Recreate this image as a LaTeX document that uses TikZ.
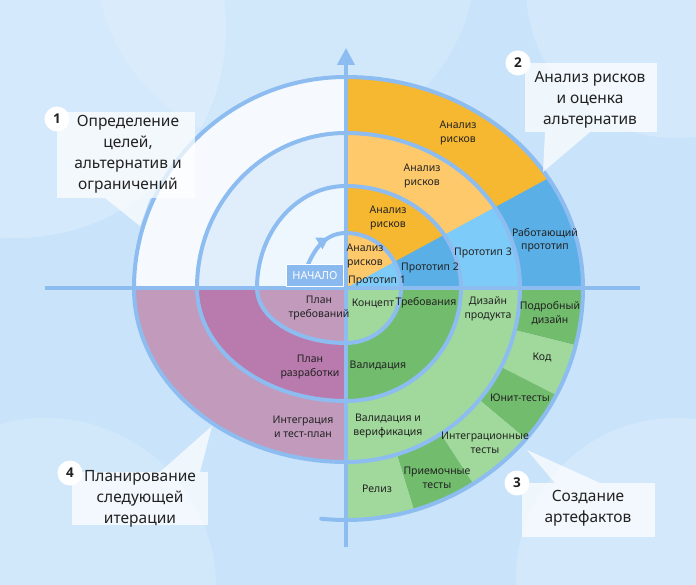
\documentclass[tikz,border=0pt]{standalone}
\usepackage{fontspec}
\setmainfont{Noto Sans}
\newfontfamily\numfont{Open Sans}[UprightFont=* Bold]
\usetikzlibrary{arrows.meta,decorations.markings}
\definecolor{bgc}{HTML}{C9E4FA}
\definecolor{linec}{HTML}{8CBCF0}
\definecolor{tlout}{HTML}{F6FAFE}
\definecolor{tlmid}{HTML}{E0EEFC}
\definecolor{tlin}{HTML}{EEF6FE}
\definecolor{ordark}{HTML}{F6B731}
\definecolor{orlight}{HTML}{FDC96A}
\definecolor{bldark}{HTML}{5AAFE6}
\definecolor{bllight}{HTML}{7DCBF8}
\definecolor{grdark}{HTML}{72BC6D}
\definecolor{grlight}{HTML}{A0D99B}
\definecolor{pulight}{HTML}{C29BBC}
\definecolor{pudark}{HTML}{B97BAE}
\definecolor{txt}{HTML}{222222}
\definecolor{startc}{HTML}{8AB9EF}
\tikzset{
  spiral/.style={draw=linec, line width=4bp, line cap=round, line join=round},
  axisline/.style={draw=linec, line width=4bp},
  lbl/.style={text=txt, align=center, inner sep=0pt, font=\fontsize{10.5bp}{13.5bp}\selectfont},
  cotext/.style={text=txt, align=center, inner sep=0pt, font=\fontsize{15.5bp}{21bp}\selectfont},
  cobox/.style={fill=white, fill opacity=0.72, draw=none},
  numdot/.style={circle, fill=white, minimum size=25bp, inner sep=0pt, text=txt, font=\numfont\fontsize{13.5bp}{15bp}\selectfont},
  startbox/.style={fill=startc, draw=white, line width=1bp, text=white, minimum width=56bp, minimum height=22bp, inner sep=0pt, font=\fontsize{11bp}{13bp}\selectfont}
}
\begin{document}
\begin{tikzpicture}[x=1bp,y=1bp]
\useasboundingbox (-346,-297) rectangle (350,288);
% background
\fill[bgc] (-346,-297) rectangle (350,288);
\begin{scope}
\clip (-346,-297) rectangle (350,288);
\fill[white, opacity=0.22] (-330,260) circle[radius=210];
\fill[white, opacity=0.16] (-60,330) circle[radius=190];
\fill[white, opacity=0.2] (330,300) circle[radius=150];
\fill[white, opacity=0.16] (-300,-300) circle[radius=170];
\fill[white, opacity=0.2] (330,-290) circle[radius=160];
\end{scope}

% ---- top-left quadrant
\fill[tlin] (0,0) -- (-89,0) arc[start angle=180,end angle=90,x radius=89,y radius=102] -- cycle;
\fill[tlmid] (-89,0) arc[start angle=180,end angle=90,x radius=89,y radius=102] -- (0,155) arc[start angle=90,end angle=180,x radius=149,y radius=155] -- cycle;
\fill[tlout] (-149,0) arc[start angle=180,end angle=90,x radius=149,y radius=155] -- (0,211) arc[start angle=90,end angle=180,x radius=212,y radius=211] -- cycle;

% ---- top-right quadrant
\fill[bllight] (0,0) -- (0,55) arc[start angle=90,end angle=0,x radius=55,y radius=55] -- cycle;
\fill[bldark] (0,55) arc[start angle=90,end angle=0,x radius=55,y radius=55] -- (115,0) arc[start angle=0,end angle=90,x radius=115,y radius=102] -- cycle;
\fill[bllight] (0,102) arc[start angle=90,end angle=0,x radius=115,y radius=102] -- (174,0) arc[start angle=0,end angle=90,x radius=174,y radius=155] -- cycle;
\fill[bldark] (0,155) arc[start angle=90,end angle=0,x radius=174,y radius=155] -- (237,0) arc[start angle=0,end angle=90,x radius=237,y radius=211] -- cycle;
\begin{scope}
\clip (0,0) -- (28.5:400) -- (0,400) -- cycle;
\fill[orlight] (0,0) -- (0,55) arc[start angle=90,end angle=0,x radius=55,y radius=55] -- cycle;
\fill[ordark] (0,55) arc[start angle=90,end angle=0,x radius=55,y radius=55] -- (115,0) arc[start angle=0,end angle=90,x radius=115,y radius=102] -- cycle;
\fill[orlight] (0,102) arc[start angle=90,end angle=0,x radius=115,y radius=102] -- (174,0) arc[start angle=0,end angle=90,x radius=174,y radius=155] -- cycle;
\fill[ordark] (0,155) arc[start angle=90,end angle=0,x radius=174,y radius=155] -- (237,0) arc[start angle=0,end angle=90,x radius=237,y radius=211] -- cycle;
\end{scope}

% ---- bottom-right quadrant
\fill[grlight] (0,0) -- (55,0) arc[start angle=0,end angle=-90,x radius=55,y radius=55] -- cycle;
\fill[grdark] (55,0) arc[start angle=0,end angle=-90,x radius=55,y radius=55] -- (0,-113) arc[start angle=-90,end angle=0,x radius=115,y radius=113] -- cycle;
\fill[grlight] (115,0) arc[start angle=0,end angle=-90,x radius=115,y radius=113] -- (0,-174) arc[start angle=-90,end angle=0,x radius=174,y radius=174] -- cycle;
\begin{scope}
\clip (174,0) arc[start angle=0,end angle=-90,x radius=174,y radius=174] -- (0,-232) arc[start angle=-90,end angle=0,x radius=237,y radius=232] -- cycle;
\fill[grdark] (0,0) -- (0:400) -- (-14:400) -- cycle;
\fill[grlight] (0,0) -- (-14:400) -- (-27:400) -- cycle;
\fill[grdark] (0,0) -- (-27:400) -- (-40:400) -- cycle;
\fill[grlight] (0,0) -- (-40:400) -- (-57:400) -- cycle;
\fill[grdark] (0,0) -- (-57:400) -- (-73:400) -- cycle;
\fill[grlight] (0,0) -- (-73:400) -- (-90:400) -- cycle;
\end{scope}

% ---- bottom-left quadrant
\fill[pulight] (0,0) -- (0,-55) arc[start angle=-90,end angle=-180,x radius=89,y radius=55] -- cycle;
\fill[pudark] (0,-55) arc[start angle=-90,end angle=-180,x radius=89,y radius=55] -- (-149,0) arc[start angle=180,end angle=270,x radius=149,y radius=113] -- cycle;
\fill[pulight] (0,-113) arc[start angle=-90,end angle=-180,x radius=149,y radius=113] -- (-212,0) arc[start angle=180,end angle=270,x radius=212,y radius=174] -- cycle;

% ---- spiral
\draw[spiral] (0,55) arc[start angle=90,end angle=0,x radius=55,y radius=55]
  arc[start angle=0,end angle=-90,x radius=55,y radius=55]
  arc[start angle=-90,end angle=-180,x radius=89,y radius=55]
  arc[start angle=180,end angle=90,x radius=89,y radius=102]
  arc[start angle=90,end angle=0,x radius=115,y radius=102]
  arc[start angle=0,end angle=-90,x radius=115,y radius=113]
  arc[start angle=-90,end angle=-180,x radius=149,y radius=113]
  arc[start angle=180,end angle=90,x radius=149,y radius=155]
  arc[start angle=90,end angle=0,x radius=174,y radius=155]
  arc[start angle=0,end angle=-90,x radius=174,y radius=174]
  arc[start angle=-90,end angle=-180,x radius=212,y radius=174]
  arc[start angle=180,end angle=90,x radius=212,y radius=211]
  arc[start angle=90,end angle=0,x radius=237,y radius=211]
  arc[start angle=0,end angle=-90,x radius=237,y radius=232]
  arc[start angle=-90,end angle=-96,x radius=237,y radius=232];
\draw[spiral, postaction={decorate}, decoration={markings, mark=at position 0.7 with {\arrow{Triangle[length=11bp,width=13bp]}}}]
  (160:44) to[out=70,in=180] (0,55);

% ---- axes
\coordinate (hl) at (-301,0);
\coordinate (hr) at (294,0);
\coordinate (vb) at (0,-259);
\coordinate (vt) at (0,240);
\draw[axisline] (hl) -- (hr);
\draw[axisline, -{Triangle[length=17bp,width=17bp]}] (vb) -- (vt);

% ---- start box
\node[startbox] (start) at (-31,12) {НАЧАЛО};

% ---- labels top-right
\node[lbl] (ar4) at (112,155) {Анализ\\рисков};
\node[lbl] (ar3) at (76,112) {Анализ\\рисков};
\node[lbl] (ar2) at (42,70) {Анализ\\рисков};
\node[lbl] (ar1) at (19,32) {Анализ\\рисков};
\node[lbl] (pr1) at (31,7) {Прототип 1};
\node[lbl] (pr2) at (84,20) {Прототип 2};
\node[lbl] (pr3) at (137,35) {Прототип 3};
\node[lbl] (pr4) at (199,48) {Работающий\\прототип};
% ---- labels bottom-right
\node[lbl] (conc) at (27,-15) {Концепт};
\node[lbl] (treb) at (80,-15) {Требования};
\node[lbl] (diz) at (142,-21) {Дизайн\\продукта};
\node[lbl] (pdiz) at (204,-25) {Подробный\\дизайн};
\node[lbl] (val) at (32,-77) {Валидация};
\node[lbl] (kod) at (196,-69) {Код};
\node[lbl] (unit) at (174,-110) {Юнит-тесты};
\node[lbl] (valv) at (42,-138) {Валидация и\\верификация};
\node[lbl] (integ) at (139,-155) {Интеграционные\\тесты};
\node[lbl] (prim) at (91,-190) {Приемочные\\тесты};
\node[lbl] (rel) at (31,-201) {Релиз};
% ---- labels bottom-left
\node[lbl] (ptreb) at (-27,-20) {План\\требований};
\node[lbl] (prazr) at (-36,-79) {План\\разработки};
\node[lbl] (pint) at (-43,-139) {Интеграция\\и тест-план};

% ---- callouts
\fill[cobox] (-241,90) -- (-206,62) -- (-196,90) -- cycle;
\fill[cobox] (-289,90) rectangle (-151,176);
\node[cotext] (c1) at (-218,134) {Определение\\целей,\\альтернатив и\\ограничений};
\node[numdot] (n1) at (-289,169) {1};

\fill[cobox] (199,156) -- (197,116) -- (244,156) -- cycle;
\fill[cobox] (179,156) rectangle (311,225);
\node[cotext] (c2) at (244,188) {Анализ рисков\\и оценка\\альтернатив};
\node[numdot] (n2) at (172,225) {2};

\fill[cobox] (209,-195) -- (181,-162) -- (254,-195) -- cycle;
\fill[cobox] (176,-195) rectangle (309,-249);
\node[cotext] (c3) at (242,-220) {Создание\\артефактов};
\node[numdot] (n3) at (171,-195) {3};

\fill[cobox] (-186,-184) -- (-134,-138) -- (-146,-184) -- cycle;
\fill[cobox] (-274,-184) rectangle (-138,-237);
\node[cotext] (c4) at (-206,-211) {Планирование\\следующей\\итерации};
\node[numdot] (n4) at (-276,-185) {4};
\end{tikzpicture}
\end{document}
